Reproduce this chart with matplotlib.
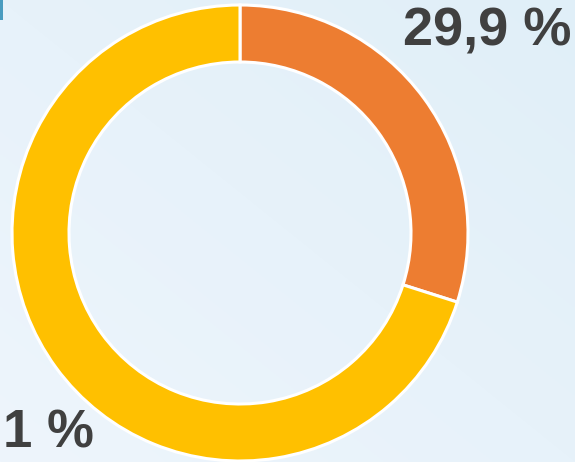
import matplotlib
matplotlib.use("Agg")
import matplotlib.pyplot as plt
import numpy as np

labels = ["29,9 %", "1 %"]
values = [29.9, 70.1]
colors = ["#ED7D31", "#FFC000"]

W, H = 575, 462
fig = plt.figure(figsize=(W / 100, H / 100), dpi=100)
ax = fig.add_axes([0, 0, 1, 1])
ax.set_xlim(0, W)
ax.set_ylim(0, H)
ax.axis("off")

# background gradient
gx = np.linspace(0, 1, 200)
gy = np.linspace(0, 1, 200)
GX, GY = np.meshgrid(gx, gy)
t = (GX + GY) / 2
c1 = np.array([0xEE, 0xF5, 0xFC]) / 255
c2 = np.array([0xE0, 0xEF, 0xF8]) / 255
img = c1[None, None, :] * (1 - t[..., None]) + c2[None, None, :] * t[..., None]
ax.imshow(img, extent=[0, W, H, 0], origin="upper", aspect="auto", zorder=0)
ax.add_patch(plt.Rectangle((0, H - 20), 2.5, 20, color="#4A9CC0", zorder=1, lw=0))

cx, cy, R = 240, H - 233, 228
ax.pie(values, colors=colors, startangle=90, counterclock=False,
       center=(cx, cy), radius=R, frame=True,
       wedgeprops=dict(width=57, edgecolor="white", linewidth=2.2))
ax.set_xlim(0, W)
ax.set_ylim(0, H)
ax.set_aspect("auto")
ax.axis("off")

ax.text(571, H - 31, labels[0], ha="right", va="center", fontsize=39,
        fontweight="bold", color="#404040", family="Liberation Sans", zorder=5)
ax.text(3, H - 434, labels[1], ha="left", va="center", fontsize=38,
        fontweight="bold", color="#404040", family="Liberation Sans", zorder=5)

fig.savefig("out.png", dpi=100)
